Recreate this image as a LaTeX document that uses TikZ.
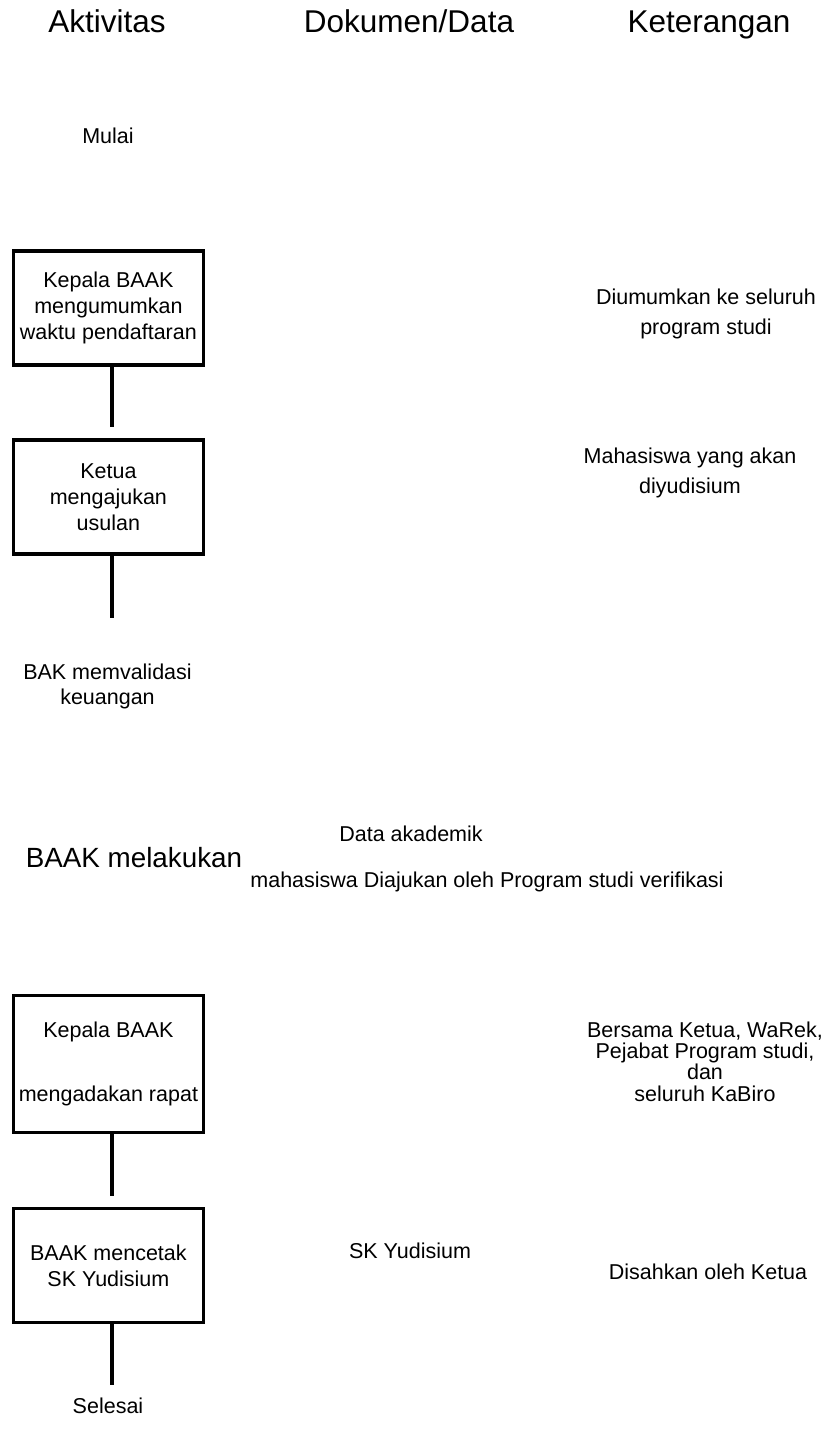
\documentclass[tikz,border=0pt]{standalone}
\usepackage{fontspec}
\setmainfont{Liberation Sans}
\usetikzlibrary{positioning}
\tikzset
{
  head/.style={anchor=base,inner sep=0pt,font=\fontsize{15.75}{19}\selectfont},
  note/.style={anchor=base,inner sep=0pt,align=center,font=\fontsize{10.75}{13}\selectfont},
  actbox/.style={draw,line width=1.6pt,minimum width=95pt,minimum height=57pt,inner sep=0pt,align=center,font=\fontsize{10.75}{13}\selectfont},
  flow/.style={draw,line width=1.6pt}
}

\begin{document}
\begin{tikzpicture}[x=0.5pt,y=-0.5pt]
        \useasboundingbox (0,0) rectangle (830,1442);

        % Column headings
        \node[head] (aktivitas) at (107,32) {Aktivitas};
        \node[head] (dokumen) at (409,32) {Dokumen/Data};
        \node[head] (keterangan) at (709,32) {Keterangan};

        % Activities
        \node[note] (mulai) at (108,143) {Mulai};
        \node[actbox] (umumkan) at (108.4,308) {Kepala BAAK\\mengumumkan\\waktu pendaftaran};
        \node[actbox] (usulan) at (108.4,497) {Ketua\\mengajukan\\usulan};
        \node[note] (validasi) at (107.5,704) {BAK memvalidasi\\[-0.5pt]keuangan};
        \node[anchor=base,inner sep=0pt,font=\fontsize{13.9}{16}\selectfont] (verifikasi) at (134,867) {BAAK melakukan};
        \node[actbox,minimum height=68.4pt] (rapat) at (108.4,1064) {Kepala BAAK\\[19pt]mengadakan rapat};
        \node[actbox] (cetak) at (108.4,1265.4) {BAAK mencetak\\SK Yudisium};
        \node[note] (selesai) at (108,1413) {Selesai};

        % Free ends of the short lines
        \coordinate (e1) at (112,427);
        \coordinate (e2) at (112,618);
        \coordinate (e3) at (112,1196);
        \coordinate (e4) at (112,1385);
        \draw[flow] (umumkan.south -| e1) -- (e1);
        \draw[flow] (usulan.south -| e2) -- (e2);
        \draw[flow] (rapat.south -| e3) -- (e3);
        \draw[flow] (cetak.south -| e4) -- (e4);

        % Documents / data
        \node[note] (akademik) at (411,841) {Data akademik};
        \node[note,anchor=base west] (diajukan) at (250,887) {mahasiswa Diajukan oleh Program studi verifikasi};
        \node[note] (sk) at (410,1258) {SK Yudisium};

        % Remarks (base = last line)
        \node[note] (diumumkan) at (706,334) {Diumumkan ke seluruh\\[2pt]program studi};
        \node[note] (yudisium) at (690,493) {Mahasiswa yang akan\\[2pt]diyudisium};
        \node[note,font=\fontsize{10.75}{10.6}\selectfont] (bersama) at (705,1101) {Bersama Ketua, WaRek,\\Pejabat Program studi,\\dan\\seluruh KaBiro};
        \node[note] (disahkan) at (708,1279) {Disahkan oleh Ketua};
    \end{tikzpicture}
\end{document}
